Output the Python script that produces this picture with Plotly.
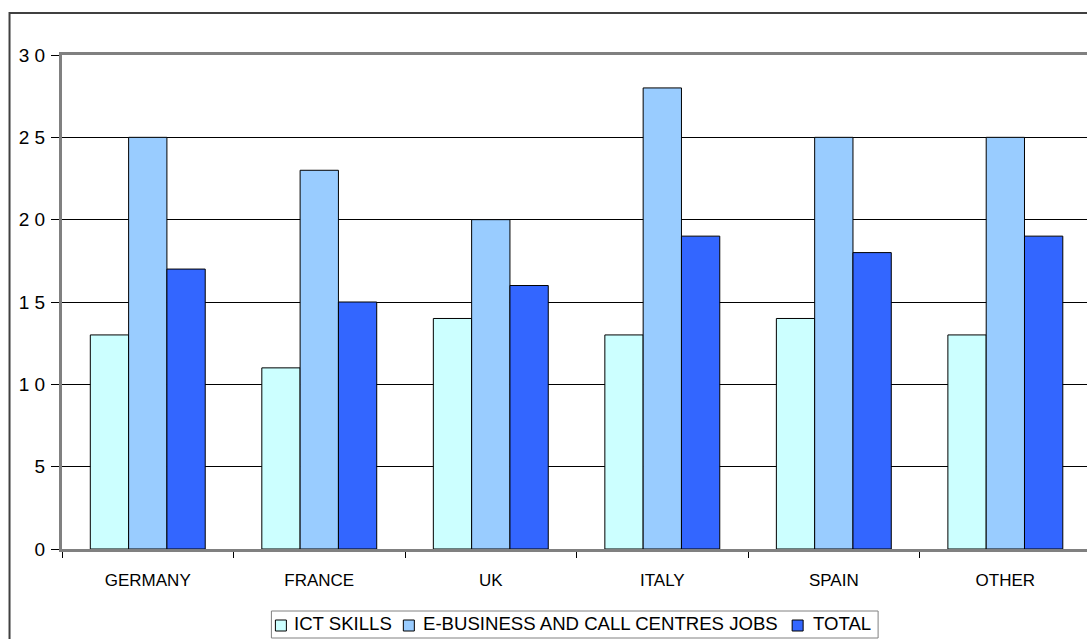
import plotly.graph_objects as go

categories = ["GERMANY", "FRANCE", "UK", "ITALY", "SPAIN", "OTHER"]
ict_skills = [13, 11, 14, 13, 14, 13]
ebusiness_jobs = [25, 23, 20, 28, 25, 25]
total = [17, 15, 16, 19, 18, 19]
series_names = ["ICT SKILLS", "E-BUSINESS AND CALL CENTRES JOBS", "TOTAL"]
tick_vals = [0, 5, 10, 15, 20, 25, 30]
tick_text = ["0", "5", "1 0", "1 5", "2 0", "2 5", "3 0"]

colors = ["#CCFFFF", "#99CCFF", "#3366FF"]
FONT = "Liberation Sans, Arial, sans-serif"

W, H = 1087, 639
L, R, T, B = 61.5, 0, 55, 90
plot_w = W - L - R
plot_h = H - T - B


def px_to_paper_x(px):
    return (px - L) / plot_w


def px_to_paper_y(py):
    return (H - B - py) / plot_h


fig = go.Figure()
for name, vals, col in zip(series_names, [ict_skills, ebusiness_jobs, total], colors):
    fig.add_trace(go.Bar(
        x=categories, y=vals, name=name, showlegend=False,
        marker=dict(color=col, line=dict(color="#000000", width=1)),
    ))

cat_w = 171.6
x_hi = -0.5 + plot_w / cat_w

fig.update_layout(
    width=W, height=H,
    margin=dict(l=L, r=R, t=T, b=B, autoexpand=False),
    paper_bgcolor="white", plot_bgcolor="white",
    barmode="group", bargap=0.33, bargroupgap=0,
    font=dict(family=FONT, color="#000000"),
    showlegend=False,
    xaxis=dict(
        range=[-0.5, x_hi],
        showline=True, linecolor="#808080", linewidth=3, mirror=True,
        ticks="outside", tickson="boundaries", ticklen=6, tickcolor="#000000",
        showgrid=False, zeroline=False,
        tickfont=dict(size=17, family=FONT),
        ticklabelstandoff=14,
    ),
    yaxis=dict(
        range=[0, 30],
        tickvals=tick_vals, ticktext=tick_text,
        showline=True, linecolor="#808080", linewidth=3,
        ticks="outside", ticklen=8, tickcolor="#000000",
        showgrid=True, gridcolor="#000000", gridwidth=1,
        zeroline=False,
        tickfont=dict(size=19, family=FONT),
        ticklabelstandoff=2,
    ),
)

# outer chart border (right and bottom sides lie outside the visible picture)
fig.add_shape(
    type="rect", xref="paper", yref="paper",
    x0=px_to_paper_x(9), x1=px_to_paper_x(W + 20),
    y0=px_to_paper_y(H + 20), y1=px_to_paper_y(13),
    line=dict(color="#404040", width=2), fillcolor="rgba(0,0,0,0)",
    layer="above",
)

# legend (box, swatches and labels)
fig.add_shape(
    type="rect", xref="paper", yref="paper",
    x0=px_to_paper_x(271), x1=px_to_paper_x(878),
    y0=px_to_paper_y(638), y1=px_to_paper_y(611),
    line=dict(color="#808080", width=1), fillcolor="white",
)
swatch_left = [275, 403, 792]
text_left = [292, 421, 811]
for name, col, sx, tx in zip(series_names, colors, swatch_left, text_left):
    fig.add_shape(
        type="rect", xref="paper", yref="paper",
        x0=px_to_paper_x(sx), x1=px_to_paper_x(sx + 11),
        y0=px_to_paper_y(631), y1=px_to_paper_y(620),
        line=dict(color="#000000", width=1), fillcolor=col,
    )
    fig.add_annotation(
        xref="paper", yref="paper",
        x=px_to_paper_x(tx), y=px_to_paper_y(623.5),
        xanchor="left", yanchor="middle",
        text=name, showarrow=False,
        font=dict(size=18.6, family=FONT, color="#000000"),
    )

fig.write_html("out.html")
